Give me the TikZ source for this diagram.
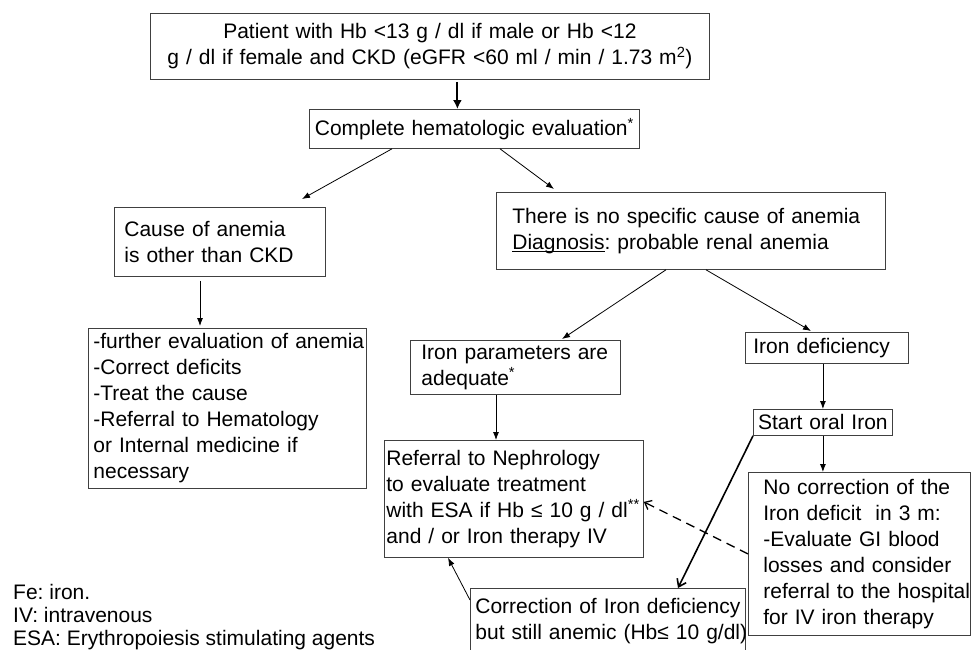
\documentclass[tikz,border=0pt]{standalone}
\usepackage{fontspec}
\setmainfont{Liberation Sans}
\frenchspacing
\hyphenpenalty=10000
\exhyphenpenalty=10000
\usetikzlibrary{arrows.meta}
\tikzset{
  blk/.style={draw=black!75, line width=0.8pt, anchor=north west, inner xsep=2pt, inner ysep=0pt, align=left},
  indent/.style={execute at begin node={\leftskip=#1}},
  arr/.style={-{Latex[length=8pt,width=6pt]}, line width=0.8pt},
}
\begin{document}
\begin{tikzpicture}[x=1pt,y=-1pt,font=\fontsize{21}{26}\selectfont]
 \useasboundingbox (0,0) rectangle (972,649);
 % boxes
 \node[blk, align=center, text width=555pt, minimum height=66pt] (top) at (150,13) {Patient with Hb <13 g / dl if male or Hb <12\\g / dl if female and CKD (eGFR <60 ml / min / 1.73 m\textsuperscript{2})};
 \node[blk, align=center, text width=326pt, minimum height=39pt] (heval) at (309,109) {Complete hematologic evaluation\textsuperscript{*}};
 \node[blk, indent=8pt, text width=207pt, minimum height=69pt] (other) at (114,207) {Cause of anemia\\is other than CKD};
 \node[blk, indent=14pt, text width=385pt, minimum height=77pt] (renal) at (496,192) {There is no specific cause of anemia\\\underline{\smash{Diagnosis}}: probable renal anemia};
 \node[blk, indent=3pt, text width=274pt, minimum height=160pt] (further) at (88,328) {-further~evaluation~of~anemia\\-Correct deficits\\-Treat the cause\\-Referral to Hematology\\or Internal medicine if\\necessary};
 \node[blk, indent=9pt, text width=206pt, minimum height=54pt] (ironok) at (410,340) {Iron parameters are\\adequate\textsuperscript{*}};
 \node[blk, indent=6pt, text width=159pt, minimum height=31pt] (irondef) at (745,332) {Iron deficiency};
 \node[blk, align=center, text width=135pt, minimum height=26pt] (oral) at (753,409) {Start oral Iron};
 \node[blk, text width=255pt, minimum height=117pt] (refer) at (384,440) {Referral to Nephrology\\to evaluate treatment\\with~ESA~if~Hb~≤~10~g~/~dl\textsuperscript{**}\\and / or Iron therapy IV};
 \node[blk, indent=13pt, text width=218pt, minimum height=163pt] (nocorr) at (748,472) {No correction of the\\Iron deficit~ in 3 m:\\-Evaluate GI blood\\losses and consider\\referral~to~the~hospital\\for IV iron therapy};
 \node[blk, indent=3pt, text width=271pt, minimum height=66pt] (corr) at (470,588) {Correction~of~Iron~deficiency\\but~still~anemic~(Hb≤~10~g/dl)};
 \node[anchor=north west, align=left, inner sep=0pt, font=\fontsize{21}{23}\selectfont] (legend) at (13,584) {Fe: iron.\\IV: intravenous\\ESA: Erythropoiesis stimulating agents};
 % arrows
 \draw[-{Latex[length=9pt,width=9pt]}, line width=2pt, shorten <=2pt] ([xshift=-17pt]heval.north |- top.south) -- ([xshift=-17pt]heval.north);
 \draw[arr] ([xshift=83pt]heval.south west) -- ([xshift=188pt,yshift=8pt]other.north west);
 \draw[arr] ([xshift=191pt]heval.south west) -- ([xshift=58pt,yshift=3pt]renal.north west);
 \draw[arr] ([xshift=86pt,yshift=-4pt]other.south west) -- ([xshift=112pt,yshift=2pt]further.north west);
 \draw[arr] ([xshift=170pt]renal.south west) -- ([xshift=152pt,yshift=1pt]ironok.north west);
 \draw[arr] ([xshift=210pt]renal.south west) -- ([xshift=66pt,yshift=1pt]irondef.north west);
 \draw[arr] ([xshift=86pt]ironok.south west) -- ([xshift=112pt]refer.north west);
 \draw[arr] (oral.north |- irondef.south) -- (oral.north);
 \draw[arr] (oral.south) -- (oral.south |- nocorr.north);
 \draw[line width=1.6pt, -{Straight Barb[length=7pt,width=10pt]}] (oral.south west) -- ([xshift=208pt]corr.north west);
 \draw[dashed, dash pattern=on 9pt off 6pt, line width=1.3pt, -{Straight Barb[length=6pt,width=10pt]}] (nocorr.west) -- ([yshift=-3pt]refer.east);
 \draw[arr] ([yshift=-12pt]corr.north west) -- ([xshift=64pt]refer.south west);
\end{tikzpicture}
\end{document}
